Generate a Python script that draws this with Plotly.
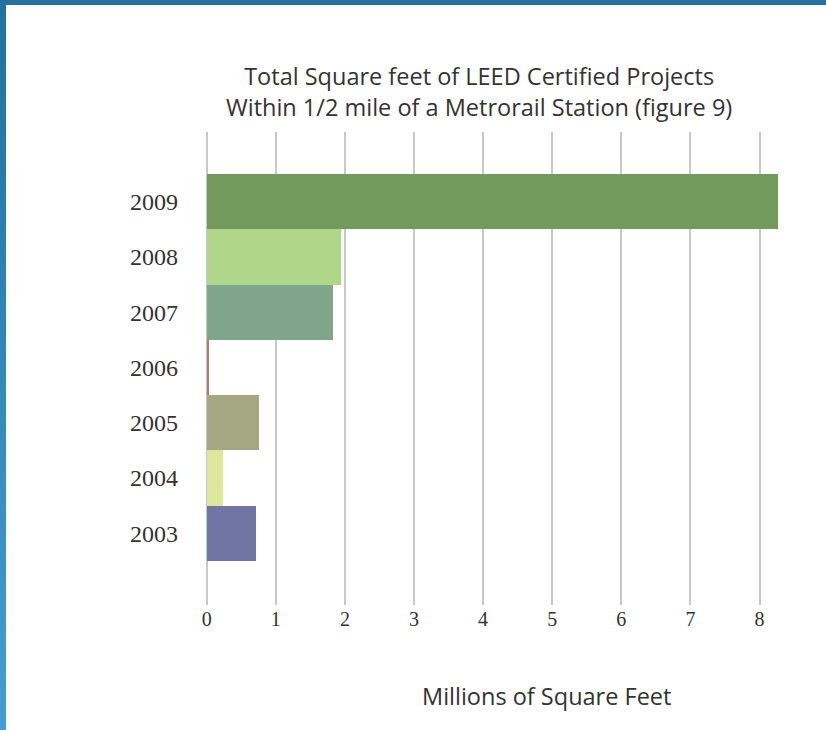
import base64
import plotly.graph_objects as go

# ---- data ----
years = ["2003", "2004", "2005", "2006", "2007", "2008", "2009"]
sq_feet_millions = [0.72, 0.24, 0.76, 0.04, 1.83, 1.94, 8.27]
bar_colors = ["#7075a3", "#dce79c", "#a5a682", "#b07a6a", "#80a58a", "#b0d68a", "#739a5c"]
x_tick_values = [0, 1, 2, 3, 4, 5, 6, 7, 8]
title_text = "Total Square feet of LEED Certified Projects<br>Within 1/2 mile of a Metrorail Station (figure 9)"
x_title_text = "Millions of Square Feet"

# ---- layout geometry ----
W, H = 826, 730
ML, MR, MT, MB = 206, 25, 132, 125
PW, PH = W - ML - MR, H - MT - MB


def px_x(px):
    return (px - ML) / PW


def px_y(py):
    return (H - MB - py) / PH


svg = (
    "<svg xmlns='http://www.w3.org/2000/svg' width='826' height='730'>"
    "<defs><linearGradient id='g' x1='0' y1='0' x2='0' y2='1'>"
    "<stop offset='0' stop-color='#22709e'/><stop offset='1' stop-color='#479dcf'/>"
    "</linearGradient></defs>"
    "<rect width='826' height='730' fill='white'/>"
    "<rect x='0' y='0' width='826' height='5' fill='#25719f'/>"
    "<rect x='0' y='0' width='6' height='730' fill='url(#g)'/>"
    "</svg>"
)
bg_src = "data:image/svg+xml;base64," + base64.b64encode(svg.encode()).decode()

fig = go.Figure(
    go.Bar(
        x=sq_feet_millions,
        y=years,
        orientation="h",
        marker=dict(color=bar_colors, line=dict(width=0)),
        hoverinfo="x+y",
    )
)

fig.update_layout(
    width=W,
    height=H,
    autosize=False,
    margin=dict(l=ML, r=MR, t=MT, b=MB, pad=0),
    paper_bgcolor="white",
    plot_bgcolor="rgba(0,0,0,0)",
    bargap=0,
    showlegend=False,
    images=[
        dict(
            source=bg_src,
            xref="paper",
            yref="paper",
            x=px_x(0),
            y=px_y(0),
            sizex=W / PW,
            sizey=H / PH,
            xanchor="left",
            yanchor="top",
            sizing="stretch",
            layer="below",
        )
    ],
    xaxis=dict(
        range=[-0.01, 8.6],
        tickvals=x_tick_values,
        showgrid=True,
        gridcolor="#c8c8c8",
        gridwidth=1.5,
        zeroline=True,
        zerolinecolor="#c8c8c8",
        zerolinewidth=1.5,
        showline=False,
        ticks="",
        tickfont=dict(family="Liberation Serif", size=20, color="#333333"),
        fixedrange=True,
        layer="below traces",
    ),
    yaxis=dict(
        type="category",
        categoryorder="array",
        categoryarray=years,
        range=[-1.30, 7.26],
        showgrid=False,
        zeroline=False,
        showline=False,
        ticks="",
        ticklabelstandoff=27,
        tickfont=dict(family="Liberation Serif", size=24, color="#333333"),
        fixedrange=True,
    ),
    annotations=[
        dict(
            text=title_text,
            xref="paper",
            yref="paper",
            x=px_x(479),
            y=px_y(92),
            xanchor="center",
            yanchor="middle",
            showarrow=False,
            font=dict(family="Open Sans", size=23.5, color="#333333"),
        ),
        dict(
            text=x_title_text,
            xref="paper",
            yref="paper",
            x=px_x(546),
            y=px_y(696),
            xanchor="center",
            yanchor="middle",
            showarrow=False,
            font=dict(family="Open Sans", size=23.5, color="#333333"),
        ),
    ],
)

fig.write_html(
    "out.html",
    config={"displayModeBar": False},
    post_script="document.body.style.margin='0px';document.body.style.overflow='hidden';",
)
